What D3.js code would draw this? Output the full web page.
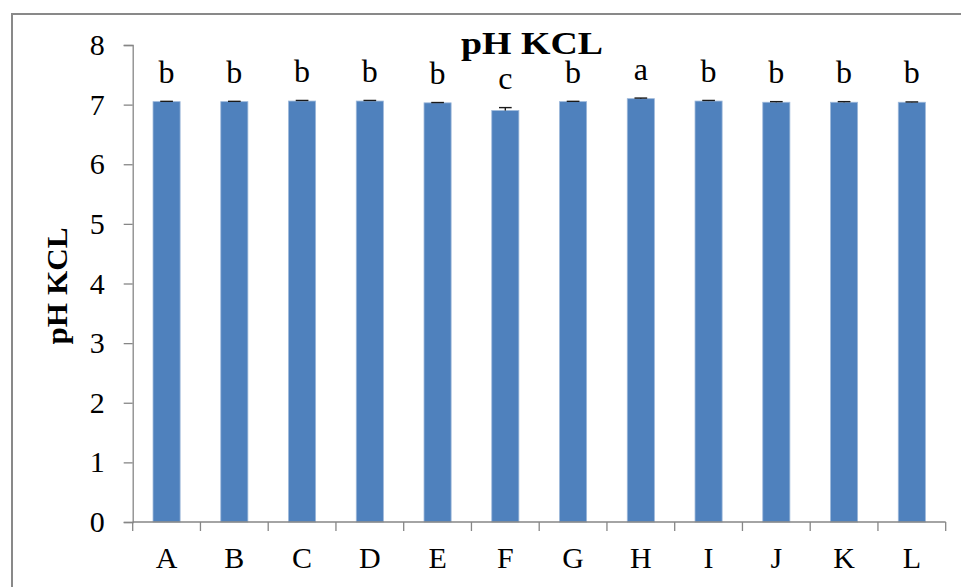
<!DOCTYPE html>
<html>
<head>
<meta charset="utf-8">
<script src="https://cdn.jsdelivr.net/npm/d3@7"></script>
<style>
  html, body { margin: 0; padding: 0; background: #fff; }
  svg { display: block; }
  text { font-family: "Liberation Serif", "Times New Roman", serif; fill: #000; }
</style>
</head>
<body>
<svg id="chart" width="961" height="587"></svg>
<script>
// pH (KCl) per treatment, with standard error and significance group letters
const categories = ["A", "B", "C", "D", "E", "F", "G", "H", "I", "J", "K", "L"];
const values     = [7.05, 7.05, 7.06, 7.06, 7.03, 6.90, 7.05, 7.10, 7.06, 7.04, 7.04, 7.04];
const errors     = [0.005, 0.005, 0.01, 0.01, 0.005, 0.05, 0.005, 0.01, 0.01, 0.01, 0.01, 0.005];
const groups     = ["b", "b", "b", "b", "b", "c", "b", "a", "b", "b", "b", "b"];
const yTicks     = [0, 1, 2, 3, 4, 5, 6, 7, 8];
const chartTitle = "pH KCL";
const yTitle     = "pH KCL";

const svg = d3.select("#chart");
const W = 961, H = 587;
const margin = { left: 132.7, right: 15.3, top: 45, bottom: 65 };

// outer frame (only its top and left edges fall inside the page)
svg.append("rect")
  .attr("x", 12).attr("y", 14)
  .attr("width", W + 20).attr("height", H + 20)
  .attr("fill", "none").attr("stroke", "#898989").attr("stroke-width", 2);

const x = d3.scaleBand()
  .domain(categories)
  .range([margin.left, W - margin.right])
  .paddingInner(0.6)
  .paddingOuter(0.3);

const y = d3.scaleLinear()
  .domain([0, 8])
  .range([H - margin.bottom, margin.top]);

const axisColor = "#868686";

// y axis
const yAxis = svg.append("g")
  .attr("transform", `translate(${margin.left},0)`)
  .call(d3.axisLeft(y).tickValues(yTicks).tickSize(9).tickPadding(19).tickFormat(d3.format("d")));
yAxis.select(".domain").attr("stroke", axisColor).attr("stroke-width", 1.3);
yAxis.selectAll(".tick line").attr("stroke", axisColor).attr("stroke-width", 1.3);
yAxis.selectAll(".tick text")
  .attr("font-family", "Liberation Serif, serif")
  .attr("font-size", 30)
  .attr("fill", "#000");

// bars
svg.append("g").selectAll("rect")
  .data(categories)
  .join("rect")
  .attr("x", d => x(d))
  .attr("width", x.bandwidth())
  .attr("y", (d, i) => y(values[i]))
  .attr("height", (d, i) => y(0) - y(values[i]))
  .attr("fill", "#4F81BD")
  .attr("stroke", "#9db8da")
  .attr("stroke-width", 0.8);

// error bars (upper half)
const capW = 12.7;
const eb = svg.append("g").attr("stroke", "#1a1a1a").attr("stroke-width", 1.4);
categories.forEach((c, i) => {
  const cx = x(c) + x.bandwidth() / 2;
  eb.append("line")
    .attr("x1", cx).attr("x2", cx)
    .attr("y1", y(values[i])).attr("y2", y(values[i] + errors[i]));
  eb.append("line")
    .attr("x1", cx - capW / 2).attr("x2", cx + capW / 2)
    .attr("y1", y(values[i] + errors[i])).attr("y2", y(values[i] + errors[i]));
});

// group letters above each bar
svg.append("g").selectAll("text")
  .data(categories)
  .join("text")
  .attr("x", d => x(d) + x.bandwidth() / 2)
  .attr("y", (d, i) => y(values[i] + errors[i]) - 18.5)
  .attr("text-anchor", "middle")
  .attr("font-size", 32)
  .text((d, i) => groups[i]);

// x axis: line with ticks at the category boundaries, labels centred on bars
const xAxisY = y(0);
const xg = svg.append("g");
xg.append("line")
  .attr("x1", margin.left).attr("x2", W - margin.right)
  .attr("y1", xAxisY).attr("y2", xAxisY)
  .attr("stroke", axisColor).attr("stroke-width", 1.3);
const boundaries = d3.range(categories.length + 1).map(i => margin.left + i * x.step());
xg.selectAll("line.tk")
  .data(boundaries)
  .join("line")
  .attr("class", "tk")
  .attr("x1", d => d).attr("x2", d => d)
  .attr("y1", xAxisY).attr("y2", xAxisY + 9)
  .attr("stroke", axisColor).attr("stroke-width", 1.3);
xg.selectAll("text")
  .data(categories)
  .join("text")
  .attr("x", d => x(d) + x.bandwidth() / 2)
  .attr("y", xAxisY + 46)
  .attr("text-anchor", "middle")
  .attr("font-size", 30)
  .text(d => d);

// chart title
svg.append("text")
  .attr("x", 532)
  .attr("y", 54)
  .attr("text-anchor", "middle")
  .attr("font-size", 31)
  .attr("font-weight", "bold")
  .attr("textLength", 142)
  .attr("lengthAdjust", "spacingAndGlyphs")
  .text(chartTitle);

// y axis title
svg.append("text")
  .attr("transform", "translate(67,286) rotate(-90)")
  .attr("text-anchor", "middle")
  .attr("font-size", 30)
  .attr("font-weight", "bold")
  .attr("textLength", 117)
  .attr("lengthAdjust", "spacingAndGlyphs")
  .text(yTitle);
</script>
</body>
</html>
